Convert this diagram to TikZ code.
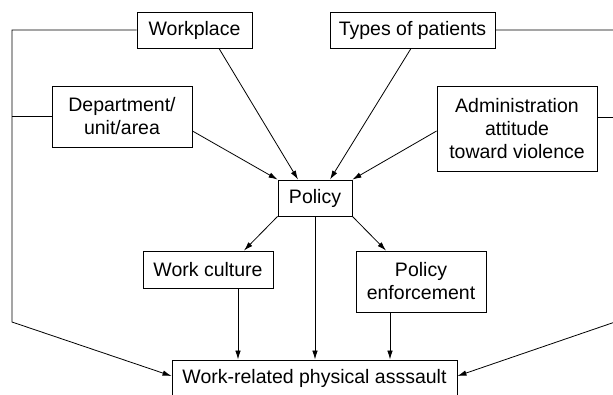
\documentclass[tikz,border=0pt]{standalone}
\usepackage{fontspec}
\setmainfont{Liberation Sans}
\usetikzlibrary{arrows.meta}
\tikzset{box/.style={draw, line width=0.9pt, inner sep=0pt, align=center, font=\fontsize{19.5}{23}\selectfont}}
\tikzset{arr/.style={-{Latex[length=9pt,width=5.5pt]}, line width=0.8pt}}

\begin{document}
\begin{tikzpicture}[x=1pt,y=-1pt]
	\useasboundingbox (0,0) rectangle (613,394);
	% boxes
	\node[box, minimum width=115pt, minimum height=36pt] (wp) at (194.5,30) {Workplace};
	\node[box, minimum width=165pt, minimum height=36pt] (tp) at (412.5,30) {Types of patients};
	\node[box, minimum width=140pt, minimum height=61pt] (dept) at (122,116.5) {Department/\\unit/area};
	\node[box, minimum width=160pt, minimum height=85pt] (adm) at (517,128.5) {Administration\\attitude\\toward violence};
	\node[box, minimum width=74pt, minimum height=36pt] (pol) at (315,198) {Policy};
	\node[box, minimum width=130pt, minimum height=37pt] (wc) at (208,269.5) {Work culture};
	\node[box, minimum width=130pt, minimum height=61pt] (pe) at (421,281.5) {Policy\\enforcement};
	\node[box, minimum width=285pt, minimum height=36pt] (wr) at (314.5,378) {Work-related physical asssault};
	% corners of the outer lines
	\coordinate (lt) at (12,30);
	\coordinate (lb) at (12,322);
	\coordinate (rt) at (615,30);
	\coordinate (rb) at (615,322);

	\draw[arr] ([xshift=24.5pt]wp.south) -- ([xshift=-17pt]pol.north);
	\draw[arr] ([xshift=-1.5pt]tp.south) -- ([xshift=15pt]pol.north);
	\draw[arr] ([yshift=-14.5pt]dept.east) -- (pol.north west);
	\draw[arr] ([yshift=-2.5pt]adm.west) -- (pol.north east);
	\draw[arr] (pol.south west) -- ([xshift=36pt]wc.north);
	\draw[arr] (pol.south east) -- ([xshift=-35pt]pe.north);
	\draw[arr] (pol.south) -- (pol.south |- wr.north);
	\draw[arr] ([xshift=30pt]wc.south) -- ([xshift=30pt]wc.south |- wr.north);
	\draw[arr] ([xshift=-31pt]pe.south) -- ([xshift=-31pt]pe.south |- wr.north);

	\draw[arr] (wp.west) -- (lt) -- (lb) -- ([yshift=2pt]wr.west);
	\draw[line width=0.8pt] (dept.west) -- (dept.west -| lt);
	\draw[arr] (tp.east) -- (rt) -- (rb) -- ([yshift=2pt]wr.east);
	\draw[line width=0.8pt] ([yshift=11.5pt]adm.east) -- ([yshift=11.5pt]adm.east -| rt);
\end{tikzpicture}
\end{document}
